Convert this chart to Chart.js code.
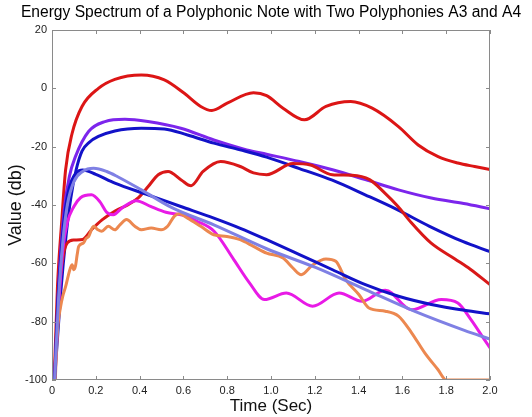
<!DOCTYPE html>
<html><head><meta charset="utf-8">
<script src="https://cdn.jsdelivr.net/npm/chart.js@4/dist/chart.umd.min.js"></script>
<style>html,body{margin:0;padding:0;background:#fff}</style>
</head><body>
<canvas id="c" width="532" height="417" style="width:532px;height:417px;display:block"></canvas>
<script>
// ---- data ----
const xTicks = [0, 0.2, 0.4, 0.6, 0.8, 1.0, 1.2, 1.4, 1.6, 1.8, 2.0];
const yTicks = [20, 0, -20, -40, -60, -80, -100];

const redTopX = [0.01, 0.025, 0.045, 0.062, 0.092, 0.137, 0.212, 0.287, 0.408, 0.513, 0.604, 0.679, 0.73, 0.8, 0.92, 0.98, 1.055, 1.153, 1.251, 1.364, 1.462, 1.582, 1.672, 1.763, 1.853, 1.93, 2.0];
const redTopY = [-100, -68, -45, -28, -15.4, -6.2, 0, 3.1, 4.6, 2.9, -1.7, -6.2, -7.6, -5.1, -1.5, -2.5, -6.8, -10.8, -6.2, -4.5, -6.8, -13.1, -19.4, -23.4, -25.6, -26.8, -27.8];

const purpleX = [0.012, 0.03, 0.055, 0.08, 0.107, 0.167, 0.242, 0.333, 0.438, 0.588, 0.739, 0.889, 0.98, 1.13, 1.281, 1.431, 1.582, 1.732, 1.88, 2.0];
const purpleY = [-100, -68, -42, -30, -23.4, -14.8, -11.4, -10.6, -11.4, -13.7, -17.7, -21.1, -22.6, -25.1, -27.9, -31.3, -34.8, -37.6, -39.5, -41.3];

const blueTopX = [0.012, 0.04, 0.065, 0.085, 0.11, 0.137, 0.17, 0.212, 0.287, 0.408, 0.513, 0.619, 0.739, 0.859, 0.98, 1.13, 1.28, 1.43, 1.574, 1.724, 1.875, 2.0];
const blueTopY = [-100, -70, -50, -38, -28, -21.5, -18.5, -16.5, -14.6, -13.7, -13.9, -16, -18.8, -21.1, -23.6, -27.5, -31.5, -36.5, -41.5, -47.3, -52.5, -56];

const blueLowX = [0.012, 0.025, 0.04, 0.055, 0.07, 0.09, 0.11, 0.14, 0.2, 0.287, 0.438, 0.588, 0.739, 0.86, 0.98, 1.13, 1.281, 1.431, 1.582, 1.732, 1.883, 2.0];
const blueLowY = [-100, -75, -58, -45, -37, -31.5, -29, -28, -29.5, -32.5, -36.5, -40.5, -44.5, -48, -51.9, -57, -62.2, -67.3, -71.3, -74.1, -76.1, -77.3];

const lightBlueX = [0.012, 0.03, 0.05, 0.07, 0.1, 0.14, 0.19, 0.25, 0.3, 0.408, 0.55, 0.739, 0.98, 1.206, 1.431, 1.657, 1.883, 2.0];
const lightBlueY = [-100, -72, -52, -40, -32, -28.5, -27.4, -28.5, -30.3, -34.8, -41, -46.8, -55, -61.5, -69, -76.5, -83, -86];

const magentaX = [0.012, 0.03, 0.05, 0.07, 0.1, 0.13, 0.18, 0.22, 0.25, 0.28, 0.32, 0.385, 0.45, 0.52, 0.6, 0.66, 0.74, 0.83, 0.9, 0.97, 1.07, 1.19, 1.311, 1.416, 1.522, 1.642, 1.778, 1.853, 1.913, 1.973, 2.0];
const magentaY = [-100, -75, -55, -46, -40.5, -37.5, -36.5, -39, -42.5, -43.3, -41, -38.5, -40.5, -42.5, -43.5, -45.5, -49, -58.7, -66.5, -72.4, -70.2, -74.7, -70.2, -73, -69.2, -75.9, -72.4, -73.6, -79.3, -86, -89];

const redLowX = [0.012, 0.03, 0.05, 0.07, 0.1, 0.14, 0.18, 0.23, 0.29, 0.35, 0.395, 0.44, 0.485, 0.53, 0.59, 0.635, 0.69, 0.77, 0.86, 0.92, 0.98, 1.1, 1.18, 1.28, 1.37, 1.45, 1.52, 1.58, 1.64, 1.73, 1.84, 1.91, 2.0];
const redLowY = [-100, -72, -58, -53, -52, -51.8, -48.5, -45, -42, -39.8, -37.5, -33.6, -29.6, -28.5, -31.4, -33.4, -28.5, -25.1, -26.8, -29, -29.6, -25.8, -26.3, -29.6, -29.8, -31.3, -35.9, -40.5, -46, -53, -58.5, -62, -67.3];

const orangeX = [0.015, 0.024, 0.039, 0.05, 0.062, 0.075, 0.084, 0.092, 0.099, 0.107, 0.115, 0.122, 0.144, 0.155, 0.167, 0.19, 0.21, 0.227, 0.257, 0.287, 0.31, 0.34, 0.378, 0.408, 0.453, 0.498, 0.528, 0.558, 0.58, 0.619, 0.679, 0.739, 0.799, 0.859, 0.92, 0.98, 1.055, 1.1, 1.138, 1.191, 1.251, 1.296, 1.341, 1.401, 1.447, 1.522, 1.582, 1.642, 1.702, 1.762, 1.8, 2.0];
const orangeY = [-100, -84, -75, -71, -68, -64, -61.6, -60.5, -62.2, -61, -57, -54.2, -53, -51.5, -50.8, -47.3, -48.5, -49, -47.3, -48.5, -46.8, -45, -47.3, -48.5, -47.9, -48.5, -47.3, -43.9, -43, -44.5, -47.3, -50.2, -50.8, -51.9, -54.2, -56.5, -58.2, -61.6, -63.9, -60.5, -58.5, -59.3, -65.6, -70.7, -75.3, -76.4, -78.1, -83.8, -90.7, -96.4, -100, -100];

// ---- chart ----
const pts = (xs, ys) => xs.map((x, i) => ({x: x, y: ys[i]}));
const mk = (xs, ys, color) => ({
  data: pts(xs, ys), borderColor: color, borderWidth: 3, pointRadius: 0,
  fill: false, cubicInterpolationMode: 'monotone'
});

Chart.defaults.font.family = "'Liberation Sans', Arial, sans-serif";

const frame = {
  id: 'frame',
  afterDraw(chart) {
    const {ctx, chartArea: a, scales: {x, y}} = chart;
    ctx.save();
    ctx.strokeStyle = '#8a8a8a';
    ctx.lineWidth = 1;
    ctx.strokeRect(Math.round(a.left) + 0.5, Math.round(a.top) + 0.5, Math.round(a.right - a.left) - 1, Math.round(a.bottom - a.top) - 1);
    ctx.beginPath();
    x.ticks.forEach(t => {
      const p = Math.round(x.getPixelForValue(t.value)) + 0.5;
      ctx.moveTo(p, a.bottom); ctx.lineTo(p, a.bottom - 4);
      ctx.moveTo(p, a.top); ctx.lineTo(p, a.top + 4);
    });
    y.ticks.forEach(t => {
      const p = Math.round(y.getPixelForValue(t.value)) + 0.5;
      ctx.moveTo(a.left, p); ctx.lineTo(a.left + 4, p);
      ctx.moveTo(a.right, p); ctx.lineTo(a.right - 4, p);
    });
    ctx.stroke();
    ctx.restore();
  }
};

new Chart(document.getElementById('c'), {
  type: 'line',
  data: {
    datasets: [
      mk(lightBlueX, lightBlueY, '#7f80e4'),
      mk(blueLowX, blueLowY, '#1212c8'),
      mk(orangeX, orangeY, '#ec8850'),
      mk(magentaX, magentaY, '#e81ae6'),
      mk(redLowX, redLowY, '#d91818'),
      mk(blueTopX, blueTopY, '#1212c8'),
      mk(purpleX, purpleY, '#7c25ec'),
      mk(redTopX, redTopY, '#dc1515')
    ]
  },
  options: {
    responsive: false,
    animation: false,
    layout: {padding: {left: 10, right: 0, top: 0, bottom: 0}},
    plugins: {
      legend: {display: false},
      tooltip: {enabled: false},
      title: {
        display: true,
        text: 'Energy Spectrum of a Polyphonic Note with Two Polyphonies A3 and A4',
        color: '#000', font: {size: 15.6, weight: 'normal'},
        padding: {top: 3, bottom: 8.3}
      }
    },
    scales: {
      x: {
        type: 'linear', min: 0, max: 2,
        afterBuildTicks: s => { s.ticks = xTicks.map(v => ({value: v})); },
        ticks: {
          callback: v => v === 0 ? '0' : Number(v).toFixed(1),
          color: '#222', font: {size: 11}, padding: 4, maxRotation: 0, autoSkip: false
        },
        grid: {display: false, drawTicks: false},
        border: {display: false},
        title: {display: true, text: 'Time (Sec)', color: '#111', font: {size: 17}, padding: 0},
        afterFit: s => { s.height = 37; }
      },
      y: {
        type: 'linear', min: -100, max: 20,
        afterBuildTicks: s => { s.ticks = yTicks.slice().reverse().map(v => ({value: v})); },
        ticks: {color: '#222', font: {size: 11}, padding: 5},
        grid: {display: false, drawTicks: false},
        border: {display: false},
        title: {display: true, text: 'Value (db)', color: '#111', font: {size: 18}, padding: {top: -5, bottom: 0}},
        afterFit: s => { s.width = 42; }
      },
      y2: {
        type: 'linear', position: 'right', display: true,
        ticks: {display: false},
        grid: {display: false, drawTicks: false},
        border: {display: false},
        afterFit: s => { s.width = 42; }
      }
    }
  },
  plugins: [frame]
});
</script>
</body></html>
